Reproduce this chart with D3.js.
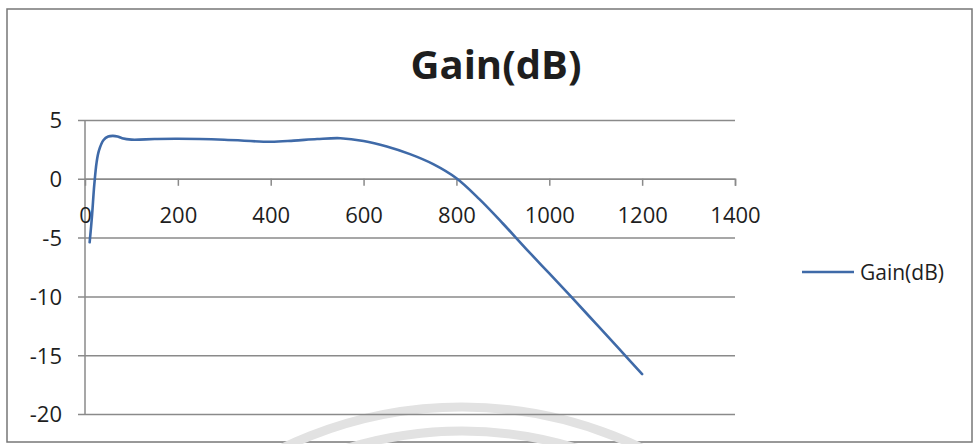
<!DOCTYPE html>
<html><head><meta charset="utf-8">
<script src="https://cdn.jsdelivr.net/npm/d3@7"></script>
<style>html,body{margin:0;padding:0;background:#fff;}svg{display:block;}</style>
</head><body>
<svg id="chart" width="975" height="444"></svg>
<script>
const title = "Gain(dB)";
const seriesName = "Gain(dB)";
const freq = [10, 15, 20, 25, 30, 40, 50, 60, 70, 80, 100, 150, 200, 300, 400, 450, 500, 550, 600, 650, 700, 750, 800, 850, 900, 950, 1000, 1050, 1100, 1150, 1200];
const gain = [-5.4, -3.2, -0.5, 1.4, 2.4, 3.3, 3.6, 3.65, 3.6, 3.45, 3.33, 3.38, 3.4, 3.32, 3.15, 3.25, 3.38, 3.45, 3.22, 2.75, 2.1, 1.25, 0.05, -1.75, -3.8, -5.95, -8.05, -10.15, -12.3, -14.45, -16.6];
const xTicks = [0, 200, 400, 600, 800, 1000, 1200, 1400];
const yTicks = [5, 0, -5, -10, -15, -20];

const svg = d3.select("#chart");
const font = "'Open Sans', sans-serif";
const grid = "#8a8a8a";

// outer chart border
svg.append("rect").attr("x", 7).attr("y", 9).attr("width", 965).attr("height", 433)
  .attr("fill", "#fff").attr("stroke", "#777").attr("stroke-width", 1.5);

// faint scanned watermark arcs
const wm = svg.append("g").attr("fill", "none").attr("stroke", "#e2e2e2").attr("stroke-width", 9);
wm.append("circle").attr("cx", 462).attr("cy", 820).attr("r", 413);
wm.append("circle").attr("cx", 462).attr("cy", 820).attr("r", 389);

const x = d3.scaleLinear().domain([0, 1400]).range([85, 735]);
const y = d3.scaleLinear().domain([-20, 5]).range([414, 120]);
const fmt = d => String(d);

// horizontal gridlines via y axis
const yAxis = d3.axisLeft(y).tickValues(yTicks).tickSize(-(735 - 78)).tickPadding(0).tickFormat(fmt);
const gy = svg.append("g").attr("transform", "translate(78,0)").call(yAxis);
gy.select(".domain").remove();
gy.selectAll(".tick line").attr("stroke", grid).attr("stroke-width", 1.5);
gy.selectAll(".tick text").attr("x", -16).attr("dy", "0.36em")
  .attr("font-family", font).attr("font-size", 22).attr("fill", "#1e1e1e");

// vertical axis line
svg.append("line").attr("x1", x(0)).attr("x2", x(0)).attr("y1", y(5)).attr("y2", y(-20))
  .attr("stroke", grid).attr("stroke-width", 1.5);

// x axis at y=0
const xAxis = d3.axisBottom(x).tickValues(xTicks).tickSize(7).tickPadding(22).tickFormat(fmt);
const gx = svg.append("g").attr("transform", `translate(0,${y(0)})`).call(xAxis);
gx.select(".domain").attr("stroke", grid).attr("stroke-width", 1.5);
gx.selectAll(".tick line").attr("stroke", grid).attr("stroke-width", 1.5).filter(d => d === 0).remove();
gx.selectAll(".tick text").attr("font-family", font).attr("font-size", 22).attr("fill", "#1e1e1e");

// series line
const data = freq.map((f, i) => ({f, g: gain[i]}));
const line = d3.line().x(d => x(d.f)).y(d => y(d.g)).curve(d3.curveCatmullRom.alpha(0.5));
svg.append("path").datum(data).attr("d", line).attr("fill", "none")
  .attr("stroke", "#3f6aa8").attr("stroke-width", 2.6).attr("stroke-linejoin", "round").attr("stroke-linecap", "round");

// title
svg.append("text").attr("x", 496).attr("y", 79).attr("text-anchor", "middle")
  .attr("font-family", font).attr("font-weight", "bold").attr("font-size", 40).attr("fill", "#1e1e1e").text(title);

// legend
svg.append("line").attr("x1", 802).attr("x2", 854).attr("y1", 272).attr("y2", 272)
  .attr("stroke", "#3f6aa8").attr("stroke-width", 2.6);
svg.append("text").attr("x", 860).attr("y", 272).attr("dy", "0.36em")
  .attr("font-family", font).attr("font-size", 21).attr("fill", "#1e1e1e").text(seriesName);
</script>
</body></html>
